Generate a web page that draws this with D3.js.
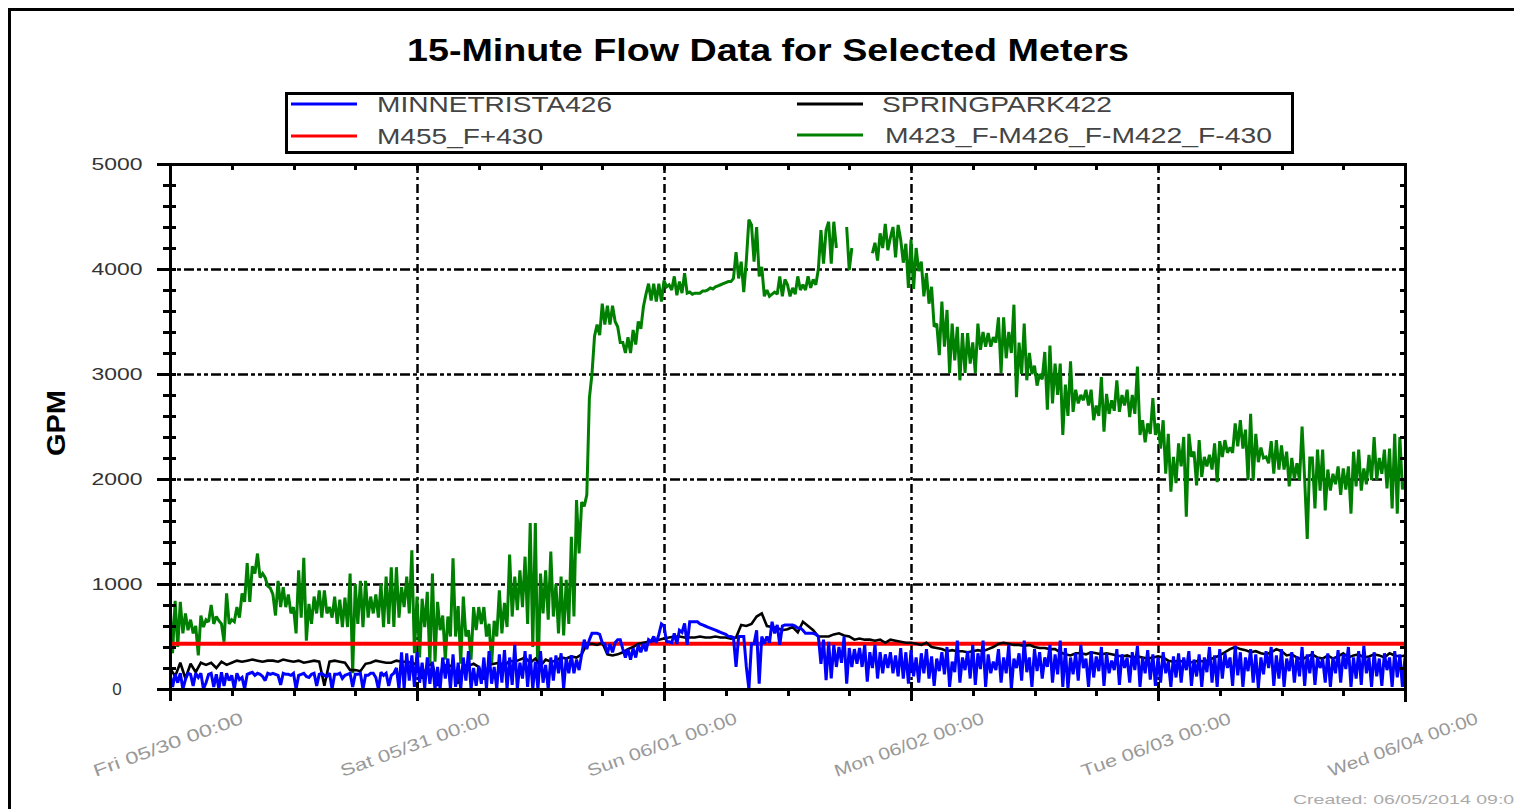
<!DOCTYPE html>
<html><head><meta charset="utf-8">
<script src="https://cdn.jsdelivr.net/npm/d3@7"></script>
<style>body{margin:0;background:#fff;overflow:hidden}svg{display:block}</style>
</head><body>
<svg id="chart" width="1514" height="809"></svg>
<script>
// ---------- DATA ----------
const titleText = "15-Minute Flow Data for Selected Meters";
const yAxisTitle = "GPM";
const createdText = "Created: 06/05/2014 09:00";
const seriesNames = ["MINNETRISTA426", "SPRINGPARK422", "M455_F+430", "M423_F-M426_F-M422_F-430"];
const startTime = "2014-05-30T00:00:00Z";
const endTime = "2014-06-04T00:00:00Z";
const xTickLabels = ["Fri 05/30 00:00", "Sat 05/31 00:00", "Sun 06/01 00:00", "Mon 06/02 00:00", "Tue 06/03 00:00", "Wed 06/04 00:00"];
const yTickValues = [0, 1000, 2000, 3000, 4000, 5000];
const yTickLabels = ["0", "1000", "2000", "3000", "4000", "5000"];

// M423_F-M426_F-M422_F-430, 15-minute values
const greenFlow = [
 820,340, 840,400, 830,530, 720,560, 660,530, 600,320, 700,590, 660,640, 800,620, 690,650,
 620,450, 910,620, 660,640, 780,680, 910,830, 1200,830, 1170,1100, 1290,1060, 1100,1060, 980,960,
 900,700, 1030,780, 970,780, 900,720, 780,530, 1130,680, 1250,460, 810,620, 880,720, 940,680,
 940,720, 780,680, 880,620, 850,590, 870,590, 1100,150, 1000,620, 1030,590, 1030,680, 880,720,
 900,680, 1000,590, 1070,620, 1160,590, 1160,680, 970,780, 1070,720, 1320,340,
 880,300, 860,590, 925,240, 1100,260, 830,560, 700,280, 690,500, 1245,500, 790,240, 880,500,
 560,280, 780,560, 780,620, 780,500, 620,240, 650,500, 940,530, 820,590, 1280,690, 1070,750,
 1130,780, 1260,620, 1580,400, 1580,50, 1100,720, 1130,660, 1310,690, 1000,530, 1070,510, 1040,620,
 1450,690, 1800,1290, 1780,1740, 1850,2770, 3000,3360, 3470,3370, 3670,3470, 3650,3470, 3650,3500, 3450,3300,
 3300,3200, 3350,3200, 3420,3280, 3500,3430, 3640,3760, 3860,3700, 3860,3690, 3860,3690,
 3890,3830, 3850,3800, 3930,3750, 3880,3770, 3960,3770, 3780,3760, 3770,3770, 3770,3790, 3790,3800, 3820,3810,
 3830,3840, 3850,3860, 3870,3880, 3880,3910, 4160,3910, 4070,3780, 4080,4470, 4420,4070, 4400,3930, 4020,3740,
 3800,3740, 3760,3780, 3760,3930, 3740,3900, 3850,3740, 3820,3760, 3930,3800, 3850,3800, 3930,3820, 3900,3850,
 4000,4370, 4050,4370, 4450,4050, 4450,4200, null,null, null,4400, 3990,4200, null,null, null,null, null,null,
 null,4150, 4250,4080, 4340,4200, 4430,4180, 4300,4400, 4110,4420, 4280,4060, 4240,3820,
 4280,3810, 4200,3980, 4070,3740, 3960,3670, 3830,3450, 3480,3180, 3690,3260, 3610,3010, 3480,3130, 3450,2940,
 3390,3010, 3390,3100, 3300,3010, 3480,3230, 3400,3260, 3390,3260, 3350,3300, 3540,3010, 3540,3150, 3400,3200,
 3660,2780, 3300,3000, 3480,2940, 3200,3000, 3080,2890, 3000,2950, 3210,2660, 3270,2720, 3100,2800, 3100,2420,
 2900,2600, 3120,2640, 2850,2720, 2800,2750, 2850,2700, 2850,2560, 2700,2600, 2970,2450, 2810,2620, 2750,2650,
 2940,2640, 2800,2700, 2850,2590, 2800,2620, 3070,2420, 2560,2350, 2530,2430, 2770,2420,
 2530,2290, 2560,2050, 2430,1880, 2210,1960, 2340,2120, 2400,1640, 2430,2210, 2260,1940, 2370,2020, 2210,2120,
 2230,2090, 2340,1970, 2360,2210, 2370,2250, 2300,2250, 2530,2310, 2560,2290, 2470,1990, 2620,1990, 2430,2160,
 2300,2200, 2210,2150, 2360,2050, 2370,2090, 2320,2090, 2260,1930, 2200,2000, 2150,1990, 2500,2000, 1430,2200,
 2200,1720, 2280,1890, 2280,1700, 2090,1890, 2050,1950, 2120,1850, 2100,1900, 2120,1670, 2260,1930, 2280,1890,
 2100,1950, 2230,1990, 2400,1990, 2200,2050, 2280,1910, 2290,1720, 2430,1670, 2400,1900, 2000
];

// MINNETRISTA426, 15-minute values
const blueFlow = [
 150,20, 140,60, 150,0, 90,150, 140,30, 150,110, 150,0, 60,140, 150,20, 140,0,
 160,30, 150,80, 130,0, 150,90, 110,0, 140,150, 160,130, 150,140, 120,80, 150,140,
 150,140, 130,40, 150,140, 140,130, 150,0, 130,140, 150,120, 110,140, 150,30, 140,150,
 130,120, 150,0, 140,140, 150,100, 130,140, 150,20, 140,140, 150,0, 130,130, 150,150,
 110,0, 160,130, 150,30, 130,150, 200,0, 350,0, 340,80, 320,20,
 350,60, 250,10, 300,50, 260,0, 210,0, 300,100, 290,0, 330,20, 250,0, 300,80,
 360,0, 200,30, 220,50, 300,0, 360,50, 210,0, 330,60, 370,0, 300,40, 420,0,
 250,100, 360,20, 330,0, 260,0, 360,60, 230,0, 300,80, 320,150, 340,0, 300,150,
 320,150, 280,180, 330,470, 380,470, 530,530, 530,520, 440,430, 340,430, 350,440, 470,470,
 380,300, 380,280, 390,300, 420,350, 430,360, 470,450, 500,440, 520,620,
 600,450, 450,440, 530,430, 560,540, 625,420, 640,640, 640,640, 620,610, 600,590, 580,570,
 560,550, 540,530, 520,500, 500,490, 210,500, 500,500, 210,0, 430,430, 560,50, 500,430,
 500,440, 640,530, 610,420, 600,610, 610,610, 610,600, 580,580, 560,530, 530,530, 530,520,
 500,240, 470,85, 450,100, 420,210, 400,250, 500,50, 390,210, 380,240, 390,210, 420,70,
 350,200, 420,100, 350,150, 330,200, 350,150, 320,120, 390,100, 350,50,
 370,120, 300,60, 340,150, 380,100, 310,30, 290,170, 350,140, 400,20, 260,160, 460,60,
 300,180, 360,100, 420,40, 340,190, 460,20, 330,150, 260,180, 380,60, 300,150, 420,0,
 290,200, 340,80, 460,160, 300,20, 380,170, 350,100, 300,210, 420,60, 330,140, 460,20,
 390,0, 300,140, 340,80, 420,200, 290,20, 360,110, 310,170, 400,30, 340,150, 270,180,
 380,40, 330,200, 300,60, 350,180, 410,20, 300,150, 370,90, 330,30,
 300,60, 350,150, 260,20, 310,110, 340,60, 300,180, 360,30, 280,120, 330,20, 300,160,
 400,60, 320,20, 380,100, 340,200, 300,30, 410,130, 350,20, 300,170, 380,60, 330,10,
 300,140, 360,200, 400,30, 320,100, 380,20, 290,170, 350,60, 310,120, 400,30, 330,150,
 360,40, 300,200, 290,60, 340,20, 300,150, 370,60, 330,190, 400,20, 300,100, 360,40,
 410,150, 300,20, 350,120, 290,30, 340,180, 300,20, 360,110, 330,20, 300
];

// SPRINGPARK422, 30-minute values
const blackFlow = [
 200,120,250,100,240,160,250,230,250,200, 260,230,250,270,260,270,280,270,260,270,
 270,260,280,270,260,270,250,260,270,260, 30,260,270,260,250,180,180,170,240,250,
 270,260,250,250,270,260,260,250,
 230,100,220,240,30,220,230,210,50,230, 220,240,210,90,230,240,250,220,270,260,
 280,300,250,290,220,280,260,270,300,290, 310,300,330,430,430,420,440,330,320,330,
 350,380,400,430,440,450,460,470,
 480,490,500,500,490,490,490,500,490,490, 500,490,490,480,490,610,600,620,690,720,
 600,590,580,560,570,590,540,640,600,560, 500,500,500,520,530,510,500,470,480,470,
 470,460,470,440,470,460,450,440,
 440,430,420,440,400,390,380,360,370,360, 360,350,360,370,360,380,400,430,440,430,
 420,420,410,420,400,390,390,380,380,350, 330,320,340,340,330,350,340,330,340,330,
 320,310,320,300,310,300,290,300,
 310,300,270,260,270,260,250,260,270,260, 280,300,320,350,380,400,380,370,350,360,
 340,330,350,380,360,320,330,300,280,310, 330,300,290,320,290,310,340,300,320,330,
 300,310,330,320,300,340,320,310, 320
];

// M455_F+430, daily values
const redFlow = [430, 430, 430, 430, 430, 430];

// ---------- CHART ----------
const svg = d3.select("#chart");
const t0 = new Date(startTime), t1 = new Date(endTime);
const x = d3.scaleUtc().domain([t0, t1]).range([170, 1405]);
const y = d3.scaleLinear().domain([0, 5000]).range([689, 164]);

function toPoints(vals, stepMin) {
  return vals.map((v, i) => ({ t: new Date(+t0 + i * stepMin * 60000), v }));
}

// outer frame
svg.append("path").attr("d", "M9.5,809 V9.5 H1514").attr("fill", "none")
  .attr("stroke", "#000").attr("stroke-width", 3);

// title
svg.append("text").attr("x", 407).attr("y", 61).text(titleText)
  .attr("font-family", "Liberation Sans, Arial, sans-serif").attr("font-weight", "bold")
  .attr("font-size", 31).attr("textLength", 722).attr("lengthAdjust", "spacingAndGlyphs").attr("fill", "#000");

// legend
const legendItems = [
  { name: seriesNames[0], color: "#0000ff", lx: 291, ly: 104, tx: 377, tw: 235 },
  { name: seriesNames[1], color: "#000000", lx: 797, ly: 104, tx: 882, tw: 230 },
  { name: seriesNames[2], color: "#ff0000", lx: 291, ly: 136, tx: 377, tw: 166 },
  { name: seriesNames[3], color: "#008000", lx: 797, ly: 135, tx: 885, tw: 387 }
];
svg.append("rect").attr("x", 286.5).attr("y", 93.5).attr("width", 1006).attr("height", 59)
  .attr("fill", "#fff").attr("stroke", "#000").attr("stroke-width", 3);
legendItems.forEach(d => {
  svg.append("line").attr("x1", d.lx).attr("x2", d.lx + 66).attr("y1", d.ly).attr("y2", d.ly)
    .attr("stroke", d.color).attr("stroke-width", 3);
  svg.append("text").attr("x", d.tx).attr("y", d.ly + 8).text(d.name)
    .attr("font-family", "Liberation Sans, Arial, sans-serif").attr("font-size", 22)
    .attr("textLength", d.tw).attr("lengthAdjust", "spacingAndGlyphs").attr("fill", "#444");
});

// grid
const g = svg.append("g");
const dayTicks = x.ticks(d3.utcDay.every(1));
const sixHourTicks = x.ticks(d3.utcHour.every(6));
const minorY = d3.range(0, 5001, 200);

g.selectAll(".hgrid").data(yTickValues.filter(v => v > 0 && v < 5000)).join("line")
  .attr("x1", 170).attr("x2", 1405).attr("y1", d => Math.round(y(d)) + 0.5).attr("y2", d => Math.round(y(d)) + 0.5)
  .attr("stroke", "#000").attr("stroke-width", 2.5).attr("stroke-dasharray", "4,3,4,3,10,3");
g.selectAll(".vgrid").data(dayTicks.slice(1, -1)).join("line")
  .attr("x1", d => Math.round(x(d)) + 0.5).attr("x2", d => Math.round(x(d)) + 0.5).attr("y1", 164).attr("y2", 689)
  .attr("stroke", "#000").attr("stroke-width", 2.5).attr("stroke-dasharray", "9,4,3,4");

// data lines
const plot = svg.append("g");
svg.append("clipPath").attr("id", "clip").append("rect").attr("x", 170).attr("y", 160).attr("width", 1235).attr("height", 531);
plot.attr("clip-path", "url(#clip)");
const line = d3.line().defined(d => d.v != null).x(d => x(d.t)).y(d => y(d.v));
const seriesDraw = [
  { pts: toPoints(greenFlow, 15), color: "#008000", w: 3 },
  { pts: toPoints(redFlow, 1440), color: "#ff0000", w: 4 },
  { pts: toPoints(blackFlow, 30), color: "#000000", w: 2.6 },
  { pts: toPoints(blueFlow, 15), color: "#0000ff", w: 3 }
];
seriesDraw.forEach(s => {
  plot.append("path").datum(s.pts).attr("d", line).attr("fill", "none")
    .attr("stroke", s.color).attr("stroke-width", s.w).attr("stroke-linejoin", "miter").attr("stroke-miterlimit", 2);
});

// axes lines
const ax = svg.append("g").attr("stroke", "#000");
ax.append("line").attr("x1", 170.5).attr("x2", 170.5).attr("y1", 163).attr("y2", 696).attr("stroke-width", 3);
ax.append("line").attr("x1", 1405.5).attr("x2", 1405.5).attr("y1", 163).attr("y2", 702).attr("stroke-width", 3);
ax.append("line").attr("x1", 158).attr("x2", 1407).attr("y1", 164.5).attr("y2", 164.5).attr("stroke-width", 3);
ax.append("line").attr("x1", 160).attr("x2", 1407).attr("y1", 689.5).attr("y2", 689.5).attr("stroke-width", 3);

// y ticks left & right
ax.selectAll(".ytl").data(minorY).join("line")
  .attr("x1", d => d % 1000 === 0 ? 157 : 163).attr("x2", 176)
  .attr("y1", d => Math.round(y(d)) + 0.5).attr("y2", d => Math.round(y(d)) + 0.5).attr("stroke-width", 3);
ax.selectAll(".ytr").data(minorY).join("line")
  .attr("x1", 1400).attr("x2", 1406)
  .attr("y1", d => Math.round(y(d)) + 0.5).attr("y2", d => Math.round(y(d)) + 0.5).attr("stroke-width", 3);
// x ticks bottom & top
ax.selectAll(".xtb").data(sixHourTicks).join("line")
  .attr("x1", d => Math.round(x(d)) + 0.5).attr("x2", d => Math.round(x(d)) + 0.5)
  .attr("y1", d => d.getUTCHours() === 0 ? 682 : 689).attr("y2", d => d.getUTCHours() === 0 ? 701 : 696).attr("stroke-width", 3);
ax.selectAll(".xtt").data(sixHourTicks).join("line")
  .attr("x1", d => Math.round(x(d)) + 0.5).attr("x2", d => Math.round(x(d)) + 0.5)
  .attr("y1", 164).attr("y2", 170).attr("stroke-width", 3);

// y labels
svg.selectAll(".ylab").data(yTickValues).join("text")
  .attr("x", 117).attr("y", d => y(d) + 6).attr("text-anchor", "middle")
  .text((d, i) => yTickLabels[i])
  .attr("font-family", "Liberation Sans, Arial, sans-serif").attr("font-size", 17).attr("fill", "#333")
  .each(function (d, i) { if (yTickLabels[i].length > 1) d3.select(this).attr("textLength", 51).attr("lengthAdjust", "spacingAndGlyphs"); });

// y axis title
svg.append("text").attr("transform", "translate(65,423) rotate(-90)").attr("text-anchor", "middle")
  .text(yAxisTitle).attr("font-family", "Liberation Sans, Arial, sans-serif").attr("font-weight", "bold")
  .attr("font-size", 25).attr("textLength", 66).attr("lengthAdjust", "spacingAndGlyphs").attr("fill", "#000");

// x labels
svg.selectAll(".xlab").data(dayTicks).join("text")
  .attr("transform", d => `translate(${x(d)},750) rotate(-20)`).attr("text-anchor", "middle")
  .text((d, i) => xTickLabels[i])
  .attr("font-family", "Liberation Sans, Arial, sans-serif").attr("font-size", 17).attr("fill", "#999")
  .attr("textLength", 158).attr("lengthAdjust", "spacingAndGlyphs");

// created text
svg.append("text").attr("x", 1293).attr("y", 804).text(createdText)
  .attr("font-family", "Liberation Sans, Arial, sans-serif").attr("font-size", 13).attr("fill", "#aaa")
  .attr("textLength", 232).attr("lengthAdjust", "spacingAndGlyphs");
</script>
</body></html>
